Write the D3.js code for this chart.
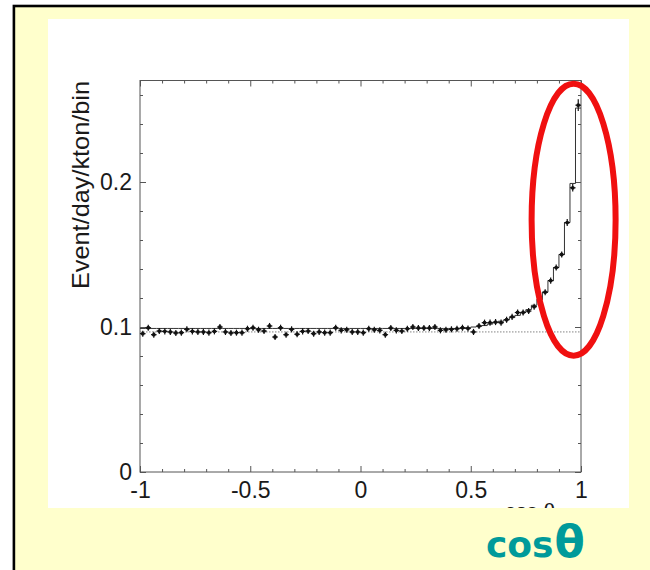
<!DOCTYPE html>
<html>
<head>
<meta charset="utf-8">
<script src="https://cdn.jsdelivr.net/npm/d3@7"></script>
<style>
  html, body { margin: 0; padding: 0; background: #ffffff; }
  svg { display: block; }
</style>
</head>
<body>
<svg id="chart" width="650" height="570"></svg>
<script>
// Event rate per cos(theta) bin (80 bins of width 0.025 from -1 to 1)
const rate = [
  0.0954, 0.0995, 0.0947, 0.0972, 0.0970, 0.0966, 0.0959, 0.0961, 0.0984, 0.0970,
  0.0966, 0.0966, 0.0961, 0.0970, 0.1000, 0.0966, 0.0959, 0.0961, 0.0961, 0.0988,
  0.0995, 0.0981, 0.0972, 0.1007, 0.0931, 0.0995, 0.0947, 0.0984, 0.0950, 0.0970,
  0.0972, 0.0954, 0.0966, 0.0961, 0.0961, 0.0995, 0.0977, 0.0981, 0.0966, 0.0966,
  0.0961, 0.0988, 0.0981, 0.0977, 0.0947, 0.0993, 0.0977, 0.0972, 0.0988, 0.1000,
  0.0993, 0.0993, 0.0993, 0.1000, 0.0977, 0.0981, 0.0984, 0.0988, 0.0995, 0.0990,
  0.0966, 0.1007, 0.1030, 0.1030, 0.1034, 0.1030, 0.1050, 0.1070, 0.1100, 0.1100,
  0.1110, 0.1140, 0.1190, 0.1240, 0.1320, 0.1410, 0.1500, 0.1720, 0.1960, 0.2530
];

// Expected rate (solid step histogram)
const expected = [
  0.0990, 0.0990, 0.0990, 0.0990, 0.0990, 0.0990, 0.0990, 0.0990, 0.0990, 0.0990,
  0.0990, 0.0990, 0.0990, 0.0990, 0.0990, 0.0990, 0.0990, 0.0990, 0.0990, 0.0990,
  0.0990, 0.0990, 0.0990, 0.0990, 0.0990, 0.0990, 0.0990, 0.0990, 0.0990, 0.0990,
  0.0990, 0.0990, 0.0990, 0.0990, 0.0990, 0.0990, 0.0990, 0.0990, 0.0990, 0.0990,
  0.0990, 0.0990, 0.0990, 0.0990, 0.0990, 0.0990, 0.0990, 0.0990, 0.0990, 0.0990,
  0.0990, 0.0990, 0.0990, 0.0990, 0.0990, 0.0990, 0.0990, 0.0990, 0.0990, 0.0995,
  0.1000, 0.1005, 0.1010, 0.1020, 0.1030, 0.1040, 0.1050, 0.1065, 0.1080, 0.1100,
  0.1120, 0.1150, 0.1190, 0.1240, 0.1320, 0.1410, 0.1500, 0.1720, 0.1990, 0.2510
];

// Vertical error half-widths: common value, larger for the last bins
const errCommon = 0.0021;
const errLast = [0.0024, 0.0026, 0.0040];

// Flat background level (dotted line)
const flatLevel = 0.0966;

// Axis ticks
const xMajor = [-1, -0.5, 0, 0.5, 1];
const xMajorLabels = ["-1", "-0.5", "0", "0.5", "1"];
const yMajor = [0, 0.1, 0.2];
const yMajorLabels = ["0", "0.1", "0.2"];

// Bin lower edges
const binWidth = 0.025;
const binLow = d3.range(rate.length).map(i => -1 + i * binWidth);
const errors = rate.map((v, i) => {
  const k = i - (rate.length - errLast.length);
  return k >= 0 ? errLast[k] : errCommon;
});

const svg = d3.select("#chart");

// Slide backdrop and framed white panel
svg.append("rect")
  .attr("x", 13.9).attr("y", 6.0)
  .attr("width", 720).attr("height", 720)
  .attr("fill", "#ffffcc")
  .attr("stroke", "#000").attr("stroke-width", 2.6);

const panel = { x: 48, y: 19, w: 581, h: 489 };
svg.append("rect")
  .attr("x", panel.x).attr("y", panel.y)
  .attr("width", panel.w).attr("height", panel.h)
  .attr("fill", "#ffffff");

svg.append("clipPath").attr("id", "panelClip")
  .append("rect")
  .attr("x", panel.x).attr("y", panel.y)
  .attr("width", panel.w).attr("height", panel.h);

const x = d3.scaleLinear().domain([-1, 1]).range([140, 581]);
const y = d3.scaleLinear().domain([0, 0.27]).range([472, 80.5]);

const axisFont = "'Liberation Sans', Arial, sans-serif";
const axisColor = "#555";

// Plot frame
svg.append("rect")
  .attr("x", x(-1)).attr("y", y(0.27))
  .attr("width", x(1) - x(-1)).attr("height", y(0) - y(0.27))
  .attr("fill", "none").attr("stroke", axisColor).attr("stroke-width", 1);

const xMinor = d3.range(-10, 11).filter(k => k % 5 !== 0).map(k => k / 10);
const yMinor = d3.range(1, 14).filter(k => k % 5 !== 0).map(k => k / 50);

function styleAxis(g) {
  g.select(".domain").remove();
  g.selectAll(".tick line").attr("stroke", axisColor).attr("stroke-width", 1);
  g.selectAll(".tick text")
    .attr("font-family", axisFont)
    .attr("font-size", 23)
    .attr("fill", "#1a1a1a");
}

// Bottom axis
svg.append("g").attr("transform", `translate(0,${y(0)})`)
  .call(d3.axisBottom(x).tickValues(xMajor).tickSize(-6).tickPadding(10)
    .tickFormat((d, i) => xMajorLabels[i]))
  .call(styleAxis);
svg.append("g").attr("transform", `translate(0,${y(0)})`)
  .call(d3.axisBottom(x).tickValues(xMinor).tickSize(-3).tickFormat(""))
  .call(styleAxis);

// Top axis
svg.append("g").attr("transform", `translate(0,${y(0.27)})`)
  .call(d3.axisTop(x).tickValues(xMajor).tickSize(-6).tickFormat(""))
  .call(styleAxis);
svg.append("g").attr("transform", `translate(0,${y(0.27)})`)
  .call(d3.axisTop(x).tickValues(xMinor).tickSize(-3).tickFormat(""))
  .call(styleAxis);

// Left axis
svg.append("g").attr("transform", `translate(${x(-1)},0)`)
  .call(d3.axisLeft(y).tickValues(yMajor).tickSize(-6).tickPadding(8)
    .tickFormat((d, i) => yMajorLabels[i]))
  .call(styleAxis);
svg.append("g").attr("transform", `translate(${x(-1)},0)`)
  .call(d3.axisLeft(y).tickValues(yMinor).tickSize(-3).tickFormat(""))
  .call(styleAxis);

// Right axis
svg.append("g").attr("transform", `translate(${x(1)},0)`)
  .call(d3.axisRight(y).tickValues(yMajor).tickSize(-6).tickFormat(""))
  .call(styleAxis);
svg.append("g").attr("transform", `translate(${x(1)},0)`)
  .call(d3.axisRight(y).tickValues(yMinor).tickSize(-3).tickFormat(""))
  .call(styleAxis);

// Flat background level
svg.append("line")
  .attr("x1", x(-1)).attr("x2", x(1))
  .attr("y1", y(flatLevel)).attr("y2", y(flatLevel))
  .attr("stroke", "#777").attr("stroke-width", 0.9)
  .attr("stroke-dasharray", "1.5,1.5");

// Expected step histogram
const stepPts = binLow.map((b, i) => [b, expected[i]]);
stepPts.push([1, expected[expected.length - 1]]);
svg.append("path")
  .datum(stepPts)
  .attr("d", d3.line().x(d => x(d[0])).y(d => y(d[1])).curve(d3.curveStepAfter))
  .attr("fill", "none")
  .attr("stroke", "#333")
  .attr("stroke-width", 1);

// Data points with error bars
const pts = svg.append("g").attr("fill", "#111").attr("stroke", "#111");
binLow.forEach((b, i) => {
  const c = b + binWidth / 2;
  const cx = x(c);
  const g = pts.append("g");
  g.append("line")
    .attr("x1", cx - 2.8).attr("x2", cx + 2.8)
    .attr("y1", y(rate[i])).attr("y2", y(rate[i]))
    .attr("stroke-width", 1.2);
  g.append("line")
    .attr("x1", cx).attr("x2", cx)
    .attr("y1", y(rate[i] - errors[i])).attr("y2", y(rate[i] + errors[i]))
    .attr("stroke-width", 1.2);
  g.append("circle")
    .attr("cx", cx).attr("cy", y(rate[i]))
    .attr("r", 1.9).attr("stroke", "none");
});

// Y axis title
svg.append("text")
  .attr("transform", "translate(88.5,185) rotate(-90)")
  .attr("text-anchor", "middle")
  .attr("font-family", axisFont)
  .attr("font-size", 24)
  .attr("textLength", 208)
  .attr("lengthAdjust", "spacingAndGlyphs")
  .attr("fill", "#1a1a1a")
  .text("Event/day/kton/bin");

// Original x title, cut off at the panel edge
svg.append("text")
  .attr("clip-path", "url(#panelClip)")
  .attr("x", 530).attr("y", 518)
  .attr("text-anchor", "middle")
  .attr("font-family", axisFont)
  .attr("font-size", 21)
  .attr("fill", "#1a1a1a")
  .text("cos θ");

// Highlight around the forward peak
svg.append("ellipse")
  .attr("cx", x(0.9665)).attr("cy", y(0.174))
  .attr("rx", 42).attr("ry", 136)
  .attr("fill", "none")
  .attr("stroke", "#f01010")
  .attr("stroke-width", 6);

// Slide caption
const cap = svg.append("text")
  .attr("x", 486).attr("y", 557)
  .attr("font-family", "'DejaVu Sans', sans-serif")
  .attr("font-weight", "bold")
  .attr("fill", "#009a9a");
cap.append("tspan")
  .attr("font-size", 36)
  .text("cos");
cap.append("tspan")
  .attr("font-size", 44)
  .attr("dx", 1)
  .text("θ");
</script>
</body>
</html>
